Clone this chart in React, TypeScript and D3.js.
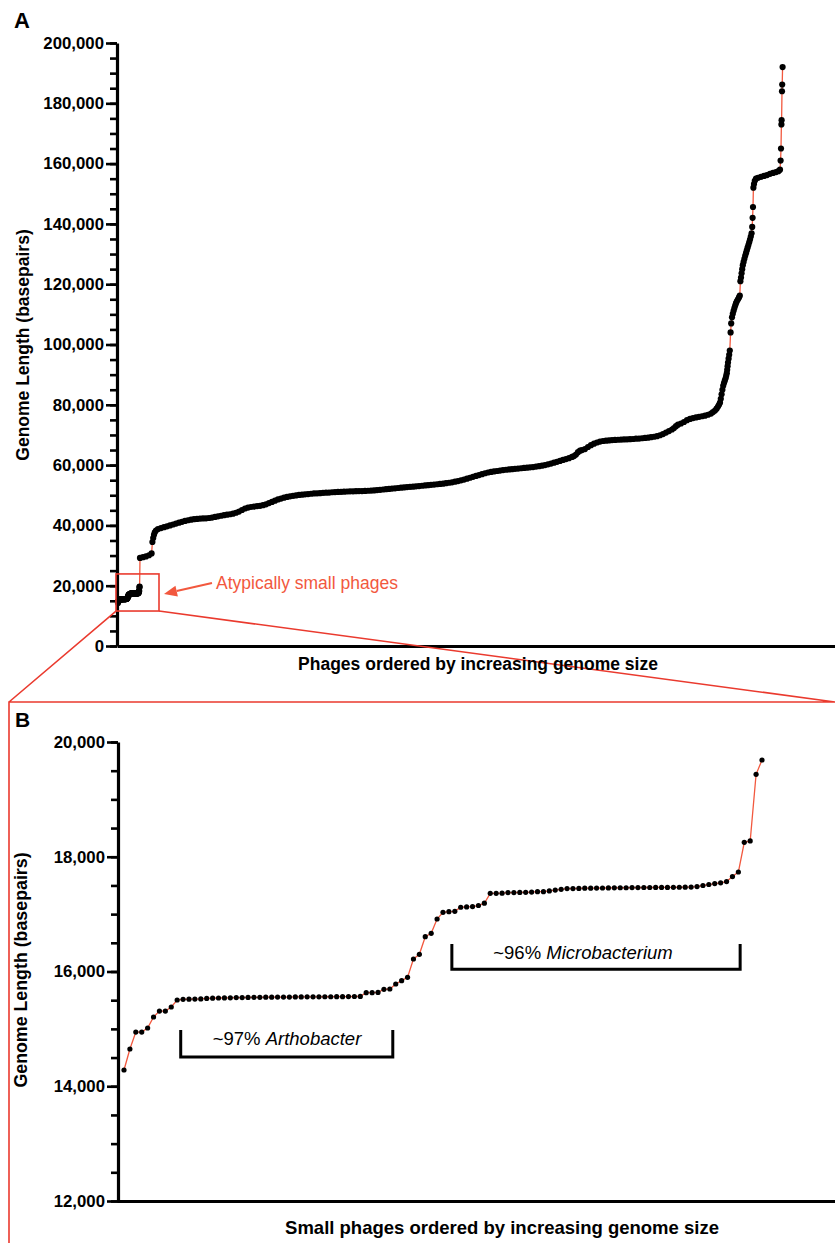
import * as d3 from 'd3';
import { useEffect, useRef } from 'react';

// Panel B: the atypically small phages, in rank order (bp)
const smallPhages = [
  14283, 14649, 14945, 14945, 15015, 15207, 15311, 15311, 15381, 15503,
  15515, 15518, 15520, 15522, 15530, 15535, 15538, 15540, 15542, 15545,
  15546, 15548, 15550, 15550, 15552, 15553, 15554, 15555, 15555, 15556,
  15557, 15558, 15558, 15559, 15560, 15560, 15561, 15562, 15563, 15564, 15566,
  15631, 15631, 15635, 15690, 15695, 15782, 15840, 15898, 16218, 16300,
  16607, 16666, 16915, 17031, 17043, 17048, 17120, 17125, 17132, 17150, 17190, 17363,
  17363, 17365, 17375, 17375, 17378, 17380, 17385, 17392, 17392, 17405,
  17420, 17432, 17445, 17445, 17448, 17452, 17452, 17454, 17455, 17456,
  17458, 17460, 17460, 17462, 17463,
  17464, 17464, 17465, 17466, 17466, 17467, 17468, 17470, 17472, 17481,
  17499, 17516, 17533, 17545, 17568,
  17655, 17734, 18252, 18275, 19437, 19686,
];

// Panel A: the rest of the phages as [rank, genome length], sampled along the curve
const largerPhages: [number, number][] = [
  [110, 29200], [125, 29450], [140, 29700], [155, 30100], [168, 30700],
  [172, 34500], [176, 35800], [180, 36900], [184, 37700], [190, 38300],
  [200, 38800], [215, 39100], [230, 39400], [245, 39700], [260, 40000], [275, 40300],
  [290, 40600], [305, 40900], [320, 41200], [335, 41500], [350, 41700], [365, 41900],
  [380, 42050], [395, 42150], [410, 42250], [425, 42300], [440, 42350], [455, 42450],
  [470, 42600], [485, 42800], [500, 43000], [515, 43200], [530, 43400], [545, 43550],
  [560, 43700], [575, 43900], [590, 44200], [605, 44600], [620, 45100], [635, 45600],
  [650, 45900], [665, 46100], [680, 46250], [695, 46400], [710, 46500], [725, 46700],
  [740, 47000], [755, 47400], [770, 47800], [785, 48200], [800, 48600], [815, 48900],
  [830, 49200], [845, 49450], [860, 49650], [875, 49800], [890, 49950], [905, 50100],
  [920, 50200], [935, 50300], [950, 50400], [965, 50500], [980, 50600], [995, 50650],
  [1010, 50700], [1025, 50800], [1040, 50850], [1055, 50900], [1070, 51000], [1085, 51050],
  [1100, 51100], [1115, 51150], [1130, 51200], [1145, 51250], [1160, 51300], [1175, 51300],
  [1190, 51350], [1205, 51400], [1220, 51400], [1235, 51450], [1250, 51500], [1265, 51550],
  [1280, 51600], [1295, 51700], [1310, 51800], [1325, 51900], [1340, 52000], [1355, 52100],
  [1370, 52200], [1385, 52300], [1400, 52400], [1415, 52500], [1430, 52600], [1445, 52700],
  [1460, 52800], [1475, 52850], [1490, 52950], [1505, 53050], [1520, 53150], [1535, 53250],
  [1550, 53350], [1565, 53450], [1580, 53550], [1595, 53650], [1610, 53750], [1625, 53850],
  [1640, 54000], [1655, 54150], [1670, 54300], [1685, 54500], [1700, 54700], [1715, 54950],
  [1730, 55200], [1745, 55500], [1760, 55800], [1775, 56100], [1790, 56400], [1805, 56700],
  [1820, 57000], [1835, 57300], [1850, 57550], [1865, 57750], [1880, 57900], [1895, 58050],
  [1910, 58200], [1925, 58350], [1940, 58450], [1955, 58550], [1970, 58650], [1985, 58750],
  [2000, 58850], [2015, 58950], [2030, 59050], [2045, 59150], [2060, 59250], [2075, 59350],
  [2090, 59500], [2105, 59650], [2120, 59800], [2135, 60000], [2150, 60250], [2165, 60500],
  [2180, 60800], [2195, 61100], [2210, 61400], [2225, 61700], [2240, 62000], [2255, 62300],
  [2270, 62700], [2280, 63000], [2290, 63500], [2300, 64300], [2310, 64800], [2320, 65000],
  [2335, 65300], [2350, 66000], [2365, 66600], [2380, 67100], [2395, 67500], [2410, 67800],
  [2425, 68000], [2440, 68100], [2455, 68200], [2470, 68300], [2485, 68350], [2500, 68400],
  [2515, 68450], [2530, 68500], [2545, 68550], [2560, 68600], [2575, 68650], [2590, 68750],
  [2605, 68800], [2620, 68900], [2635, 69000], [2650, 69100], [2665, 69250], [2680, 69400],
  [2695, 69600], [2710, 69900], [2725, 70300], [2740, 70800], [2755, 71300], [2770, 71800],
  [2780, 72300], [2790, 72900], [2800, 73400], [2815, 73800], [2830, 74300], [2845, 74900],
  [2860, 75300], [2875, 75600], [2890, 75800], [2905, 76000], [2920, 76200], [2935, 76400],
  [2950, 76700], [2965, 77100], [2975, 77600], [2985, 78100], [2993, 78700], [3000, 79400],
  [3005, 80000], [3010, 80700], [3014, 82000], [3018, 83500], [3022, 85000], [3026, 86300],
  [3030, 87200], [3034, 88000], [3038, 88800], [3041, 89600], [3044, 90500], [3046, 91600],
  [3048, 92800], [3050, 94000], [3053, 95300], [3056, 96600], [3059, 98000], [3063, 104000],
  [3066, 107000], [3070, 109000], [3074, 110200], [3078, 111200], [3082, 112100], [3086, 112900],
  [3090, 113700], [3095, 114400], [3100, 115000], [3105, 115600], [3109, 116200], [3112, 121000],
  [3115, 122200], [3118, 123600], [3121, 125000], [3124, 126300], [3128, 127400], [3132, 128400],
  [3136, 129400], [3140, 130300], [3144, 131200], [3148, 132100], [3152, 133000], [3156, 133900],
  [3160, 134800], [3164, 135800], [3168, 136900], [3171, 139000], [3173, 142000], [3175, 145600],
  [3177, 152000], [3180, 153200], [3184, 154300], [3190, 155000], [3200, 155300], [3215, 155600],
  [3230, 155900], [3245, 156200], [3260, 156600], [3275, 156900], [3290, 157200], [3302, 157500],
  [3310, 158000], [3313, 161000], [3315, 165000], [3317, 173000], [3318, 174400], [3320, 184000],
  [3321, 186200], [3323, 192000],
];

const yTicksA = d3.range(0, 200001, 20000);
const yMinorA = d3.range(0, 200001, 5000);
const yTicksB = [12000, 14000, 16000, 18000, 20000];
const yMinorB = d3.range(12000, 20001, 500);

// genus brackets in panel B: [from rank, to rank, bracket top bp, bracket bottom bp]
const genusLabels = ['~97% ', '~96% '];
const genusNames = ['Arthobacter', 'Microbacterium'];
const genusSpans: [number, number, number, number][] = [
  [9.6, 45.5, 14980, 14510],
  [55.5, 104.3, 16480, 16040],
];

// zoom box in panel A: ranks and bp
const zoomRanks = [-10, 205];
const zoomBp = [11600, 23900];

const lineRed = '#f2583e';
const frameRed = '#ea3a2e';
const font = '"Liberation Sans", Arial, Helvetica, sans-serif';

export default function App() {
  const ref = useRef<SVGSVGElement>(null);

  useEffect(() => {
    const svg = d3.select(ref.current);
    svg.selectAll('*').remove();
    svg.style('font-family', font);

    const drawYAxis = (
      y: d3.ScaleLinear<number, number>,
      x0: number,
      major: number[],
      minor: number[],
      fmt: (d: number) => string
    ) => {
      const gMinor = svg
        .append('g')
        .attr('transform', `translate(${x0},0)`)
        .call(d3.axisLeft(y).tickValues(minor).tickSize(7).tickSizeOuter(0).tickFormat(() => ''));
      gMinor.select('.domain').remove();
      gMinor.selectAll('line').attr('stroke-width', 2.6);

      const g = svg
        .append('g')
        .attr('transform', `translate(${x0},0)`)
        .call(
          d3
            .axisLeft(y)
            .tickValues(major)
            .tickSize(11)
            .tickSizeOuter(0)
            .tickPadding(2)
            .tickFormat((d) => fmt(d as number))
        );
      g.select('.domain').attr('stroke-width', 3.2);
      g.selectAll('line').attr('stroke-width', 2.6);
      g.selectAll('text')
        .attr('font-size', 16.8)
        .attr('font-weight', 'bold')
        .attr('font-family', font)
        .attr('fill', '#000');
    };

    const drawXAxis = (x: d3.ScaleLinear<number, number>, y0: number) => {
      const g = svg
        .append('g')
        .attr('transform', `translate(0,${y0})`)
        .call(d3.axisBottom(x).tickValues([]).tickSizeOuter(0));
      g.select('.domain').attr('stroke-width', 3.2);
    };

    // ---------- Panel A ----------
    const xA = d3.scaleLinear().domain([-5, 3585]).range([117, 835]);
    const yA = d3.scaleLinear().domain([0, 200000]).range([646, 43]);
    const dataA: [number, number][] = [
      ...smallPhages.map((v, i) => [i, v] as [number, number]),
      ...largerPhages,
    ];

    drawYAxis(yA, 117, yTicksA, yMinorA, (d) => (d === 0 ? '0' : d3.format(',')(d)));
    drawXAxis(xA, 646);

    svg
      .append('path')
      .datum(dataA)
      .attr('fill', 'none')
      .attr('stroke', lineRed)
      .attr('stroke-width', 1.3)
      .attr(
        'd',
        d3
          .line<[number, number]>()
          .x((d) => xA(d[0]))
          .y((d) => yA(d[1]))
      );
    svg
      .append('g')
      .selectAll('circle')
      .data(dataA)
      .enter()
      .append('circle')
      .attr('cx', (d) => xA(d[0]))
      .attr('cy', (d) => yA(d[1]))
      .attr('r', 3.1)
      .attr('fill', '#000');

    // zoom box, connectors and frame of panel B
    const bx0 = xA(zoomRanks[0]);
    const bx1 = xA(zoomRanks[1]);
    const by0 = yA(zoomBp[1]);
    const by1 = yA(zoomBp[0]);
    svg
      .append('rect')
      .attr('x', bx0)
      .attr('y', by0)
      .attr('width', bx1 - bx0)
      .attr('height', by1 - by0)
      .attr('fill', 'none')
      .attr('stroke', frameRed)
      .attr('stroke-width', 1.6);
    const frameTop = 702;
    const frameLeft = 9;
    svg
      .append('path')
      .attr(
        'd',
        `M${bx0},${by1}L${frameLeft},${frameTop}M${bx1},${by1}L835,${frameTop}` +
          `M${frameLeft},1243L${frameLeft},${frameTop}L835,${frameTop}`
      )
      .attr('fill', 'none')
      .attr('stroke', frameRed)
      .attr('stroke-width', 1.6);

    // arrow + annotation
    const ax1 = 212;
    const ay1 = 583;
    const ax2 = bx1 + 5;
    const ay2 = 594;
    const ang = Math.atan2(ay2 - ay1, ax2 - ax1);
    const headL = 13;
    const headW = 5.5;
    const hx = ax2 - headL * Math.cos(ang);
    const hy = ay2 - headL * Math.sin(ang);
    svg
      .append('line')
      .attr('x1', ax1)
      .attr('y1', ay1)
      .attr('x2', hx)
      .attr('y2', hy)
      .attr('stroke', lineRed)
      .attr('stroke-width', 2);
    svg
      .append('path')
      .attr(
        'd',
        `M${ax2},${ay2}L${hx + headW * Math.sin(ang)},${hy - headW * Math.cos(ang)}L${
          hx - headW * Math.sin(ang)
        },${hy + headW * Math.cos(ang)}Z`
      )
      .attr('fill', lineRed);
    svg
      .append('text')
      .attr('x', 216)
      .attr('y', 589)
      .attr('font-size', 17.5)
      .attr('fill', lineRed)
      .text('Atypically small phages');

    svg
      .append('text')
      .attr('x', 14)
      .attr('y', 28)
      .attr('font-size', 22)
      .attr('font-weight', 'bold')
      .text('A');
    svg
      .append('text')
      .attr('transform', 'translate(29,345) rotate(-90)')
      .attr('text-anchor', 'middle')
      .attr('font-size', 17.5)
      .attr('font-weight', 'bold')
      .text('Genome Length (basepairs)');
    svg
      .append('text')
      .attr('x', 478)
      .attr('y', 670)
      .attr('text-anchor', 'middle')
      .attr('font-size', 17.5)
      .attr('font-weight', 'bold')
      .text('Phages ordered by increasing genome size');

    // ---------- Panel B ----------
    const xB = d3.scaleLinear().domain([0, smallPhages.length - 1]).range([124, 762]);
    const yB = d3.scaleLinear().domain([12000, 20000]).range([1201, 742]);

    drawYAxis(yB, 118, yTicksB, yMinorB, (d) => d3.format(',')(d));
    drawXAxis(xB.copy().domain([xB.invert(117), xB.invert(835)]).range([117, 835]), 1201);

    svg
      .append('path')
      .datum(smallPhages)
      .attr('fill', 'none')
      .attr('stroke', lineRed)
      .attr('stroke-width', 1.3)
      .attr(
        'd',
        d3
          .line<number>()
          .x((_d, i) => xB(i))
          .y((d) => yB(d))
      );
    svg
      .append('g')
      .selectAll('circle')
      .data(smallPhages)
      .enter()
      .append('circle')
      .attr('cx', (_d, i) => xB(i))
      .attr('cy', (d) => yB(d))
      .attr('r', 2.6)
      .attr('fill', '#000');

    const labelCentres = [287, 583];
    genusSpans.forEach(([r0, r1, top, bottom], i) => {
      const x0 = xB(r0);
      const x1 = xB(r1);
      const yt = yB(top);
      const yb = yB(bottom);
      svg
        .append('path')
        .attr('d', `M${x0},${yt}V${yb}H${x1}V${yt}`)
        .attr('fill', 'none')
        .attr('stroke', '#000')
        .attr('stroke-width', 3);
      const t = svg
        .append('text')
        .attr('x', labelCentres[i])
        .attr('y', yt + 15)
        .attr('text-anchor', 'middle')
        .attr('font-size', 18.5);
      t.append('tspan').text(genusLabels[i]);
      t.append('tspan').attr('font-style', 'italic').text(genusNames[i]);
    });

    svg
      .append('text')
      .attr('x', 15)
      .attr('y', 727)
      .attr('font-size', 21)
      .attr('font-weight', 'bold')
      .text('B');
    svg
      .append('text')
      .attr('transform', 'translate(27,970) rotate(-90)')
      .attr('text-anchor', 'middle')
      .attr('font-size', 17.8)
      .attr('font-weight', 'bold')
      .text('Genome Length (basepairs)');
    svg
      .append('text')
      .attr('x', 502)
      .attr('y', 1234)
      .attr('text-anchor', 'middle')
      .attr('font-size', 18.5)
      .attr('font-weight', 'bold')
      .text('Small phages ordered by increasing genome size');
  }, []);

  return (
    <svg
      ref={ref}
      width={835}
      height={1243}
      style={{ position: 'absolute', left: 0, top: 0, background: '#fff' }}
    />
  );
}
